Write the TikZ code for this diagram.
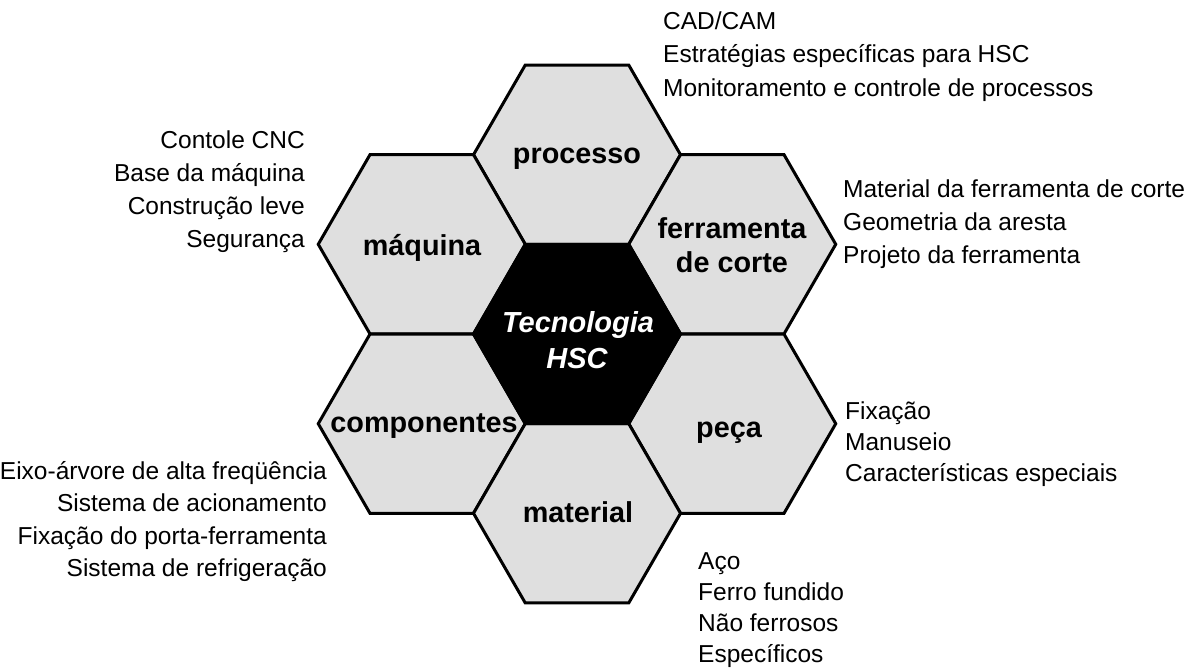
\documentclass[tikz,border=0pt]{standalone}
\usepackage{fontspec}
\setmainfont{Liberation Sans}
\usetikzlibrary{shapes.geometric}
\definecolor{hexgray}{RGB}{223,223,223}
\begin{document}
\begin{tikzpicture}[x=1pt,y=-1pt,
  hexcell/.style={regular polygon, regular polygon sides=6, minimum size=207pt,
    inner sep=0pt, outer sep=0pt, draw=black, line width=3pt, line join=miter},
  outerhex/.style={hexcell, fill=hexgray},
  corehex/.style={hexcell, fill=black},
  hexlabel/.style={font=\fontsize{28.8}{33}\selectfont\bfseries, inner sep=0pt, anchor=base},
  corelabel/.style={hexlabel, font=\fontsize{29}{33}\selectfont\bfseries\itshape, text=white},
  listL/.style={font=\fontsize{24.5}{33}\selectfont, inner sep=0pt, anchor=base west},
  listR/.style={listL, anchor=base east}]
\useasboundingbox (0,0) rectangle (1190,669);
% hexagons
\node[outerhex] (hproc) at (577,154.7) {};
\node[outerhex] (hmaq)  at (421.75,244.3) {};
\node[outerhex] (hferr) at (732.25,244.3) {};
\node[outerhex] (hcomp) at (421.75,423.7) {};
\node[outerhex] (hpeca) at (732.25,423.7) {};
\node[outerhex] (hmat)  at (577,513.3) {};
\node[corehex]  (hcore) at (577,334) {};
% labels
\node[hexlabel] (lproc) at (577,163) {processo};
\node[hexlabel] (lmaq) at (422,255) {máquina};
\node[hexlabel] (lferr1) at (732,238) {ferramenta};
\node[hexlabel] (lferr2) at (732,272) {de corte};
\node[corelabel] (lcore1) at (578,332) {Tecnologia};
\node[corelabel] (lcore2) at (577,368) {HSC};
\node[hexlabel] (lcomp) at (424,432) {componentes};
\node[hexlabel] (lpeca) at (729,437) {peça};
\node[hexlabel] (lmat) at (578,522) {material};
% lists
\foreach \t [count=\i from 0] in {CAD/CAM, Estratégias específicas para HSC, Monitoramento e controle de processos}
  \node[listL] (tproc\i) at (663,29.3+33.7*\i) {\t};
\foreach \t [count=\i from 0] in {Contole CNC, Base da máquina, Construção leve, Segurança}
  \node[listR] (tmaq\i) at (305,148+33*\i) {\t};
\foreach \t [count=\i from 0] in {Material da ferramenta de corte, Geometria da aresta, Projeto da ferramenta}
  \node[listL] (tferr\i) at (843,197+33*\i) {\t};
\foreach \t [count=\i from 0] in {Fixação, Manuseio, Características especiais}
  \node[listL] (tpeca\i) at (845,419+31*\i) {\t};
\foreach \t [count=\i from 0] in {Eixo-árvore de alta freqüência, Sistema de acionamento, Fixação do porta-ferramenta, Sistema de refrigeração}
  \node[listR] (tcomp\i) at (327,479+32.5*\i) {\t};
\foreach \t [count=\i from 0] in {Aço, Ferro fundido, Não ferrosos, Específicos}
  \node[listL] (tmat\i) at (698,569+31.3*\i) {\t};
\end{tikzpicture}
\end{document}
